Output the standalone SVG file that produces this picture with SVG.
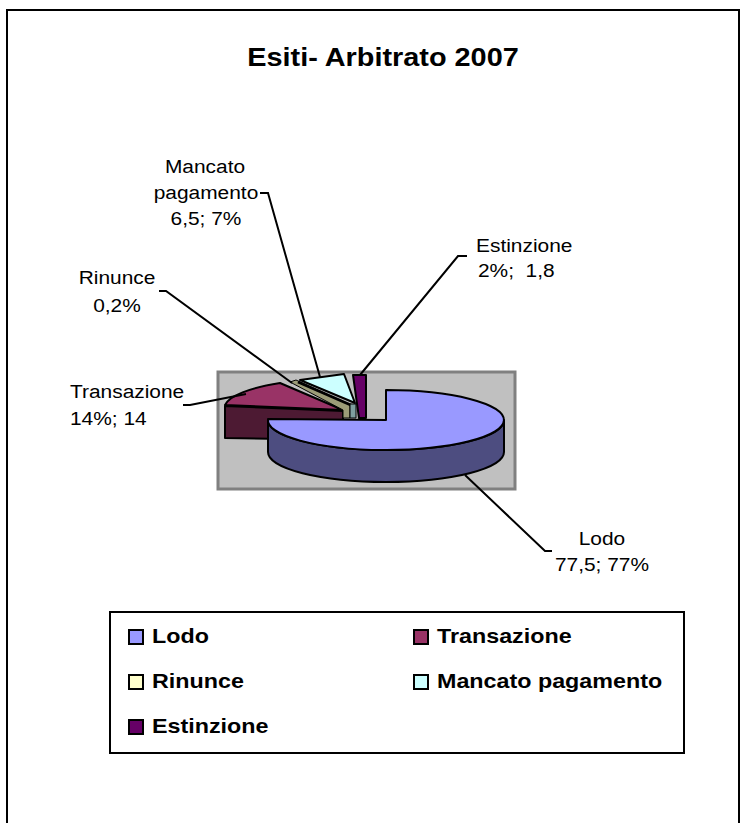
<svg xmlns="http://www.w3.org/2000/svg" width="741" height="823" viewBox="0 0 741 823">
<style>
text{font-family:"Liberation Sans",Arial,sans-serif;fill:#000}
.lbl{font-size:19px}
.leg{font-size:20px;font-weight:bold}
.ttl{font-size:26px;font-weight:bold}
.pie{stroke:#000;stroke-width:2;stroke-linejoin:round}
.thin{stroke:#000;stroke-width:1;stroke-linejoin:round}
.lead{fill:none;stroke:#000;stroke-width:2}
.sw{stroke:#000;stroke-width:2}
.pre{white-space:pre}
</style>
<rect x="0" y="0" width="741" height="823" fill="#fff"/>
<rect x="7" y="10" width="732" height="830" fill="#fff" stroke="#000" stroke-width="2"/>
<text class="ttl" text-anchor="middle" transform="translate(383,66) scale(1.11,1)">Esiti- Arbitrato 2007</text>
<rect id="plot-area" x="218" y="372" width="297" height="117" fill="#C0C0C0" stroke="#808080" stroke-width="3"/>
<g id="slice-transazione">
<path class="pie" d="M225,406 L343,411 L343,440 L225,438 Z" fill="#4D1A33"/>
<path class="pie" d="M343,410 L225,405 A118,30 0 0 1 280,383 Z" fill="#993366"/>
</g>
<g id="slice-rinunce">
<path class="thin" d="M290,382 L296,380 L350,405 L350,418 L343,418 L343,410 Z" fill="#9C9C78"/>
</g>
<g id="slice-mancato">
<path class="pie" d="M300,380 L344,374 L355,403 Z" fill="#CCFFFF"/>
<path d="M298,382 L353,406" stroke="#000" stroke-width="3" fill="none"/>
<path class="thin" d="M350,404 L356,404 L356,418 L350,418 Z" fill="#7FA0A0"/>
</g>
<g id="slice-estinzione">
<path class="pie" d="M353,375 L366,375 L366,418 L359,418 Z" fill="#660066"/>
</g>
<g id="slice-lodo">
<path class="pie" d="M504,420 A118,30 0 0 1 268,420 L268,452 A118,30 0 0 0 504,452 Z" fill="#4D4D80"/>
<path class="pie" d="M386,420 L386,390 A118,30 0 1 1 268,419 Z" fill="#9999FF"/>
</g>
<g id="connectors">
<path class="lead" d="M465,475 L545,551 L552,551"/>
<path class="lead" d="M183,405 L190,405 L246,394"/>
<path class="lead" d="M159,291 L166,291 L292,383"/>
<path class="lead" d="M260,193 L268,193 L320,377"/>
<path class="lead" d="M467,256 L458,256 L360,375"/>
</g>
<g id="label-lodo">
<text class="lbl" text-anchor="middle" transform="translate(602,545) scale(1.1,1)">Lodo</text>
<text class="lbl" text-anchor="middle" transform="translate(602,571) scale(1.1,1)">77,5; 77%</text>
</g>
<g id="label-transazione">
<text class="lbl" transform="translate(70,398) scale(1.1,1)">Transazione</text>
<text class="lbl" transform="translate(70,425) scale(1.1,1)">14%; 14</text>
</g>
<g id="label-rinunce">
<text class="lbl" text-anchor="middle" transform="translate(117,284) scale(1.1,1)">Rinunce</text>
<text class="lbl" text-anchor="middle" transform="translate(117,312) scale(1.1,1)">0,2%</text>
</g>
<g id="label-mancato">
<text class="lbl" text-anchor="middle" transform="translate(205,173) scale(1.1,1)">Mancato</text>
<text class="lbl" text-anchor="middle" transform="translate(206,199) scale(1.1,1)">pagamento</text>
<text class="lbl" text-anchor="middle" transform="translate(206,225) scale(1.1,1)">6,5; 7%</text>
</g>
<g id="label-estinzione">
<text class="lbl" transform="translate(476,252) scale(1.1,1)">Estinzione</text>
<text class="lbl pre" transform="translate(478,277) scale(1.1,1)">2%;  1,8</text>
</g>
<g id="legend">
<rect x="110" y="612" width="574" height="141" fill="#fff" stroke="#000" stroke-width="2"/>
<rect class="sw" x="129" y="630" width="14" height="14" fill="#9999FF"/>
<text class="leg" transform="translate(152,643) scale(1.165,1)">Lodo</text>
<rect class="sw" x="414" y="630" width="14" height="14" fill="#993366"/>
<text class="leg" transform="translate(437,643) scale(1.165,1)">Transazione</text>
<rect class="sw" x="129" y="675" width="14" height="14" fill="#FFFFCC"/>
<text class="leg" transform="translate(152,688) scale(1.165,1)">Rinunce</text>
<rect class="sw" x="414" y="675" width="14" height="14" fill="#CCFFFF"/>
<text class="leg" transform="translate(437,688) scale(1.165,1)">Mancato pagamento</text>
<rect class="sw" x="129" y="720" width="14" height="14" fill="#660066"/>
<text class="leg" transform="translate(152,733) scale(1.165,1)">Estinzione</text>
</g>
</svg>
